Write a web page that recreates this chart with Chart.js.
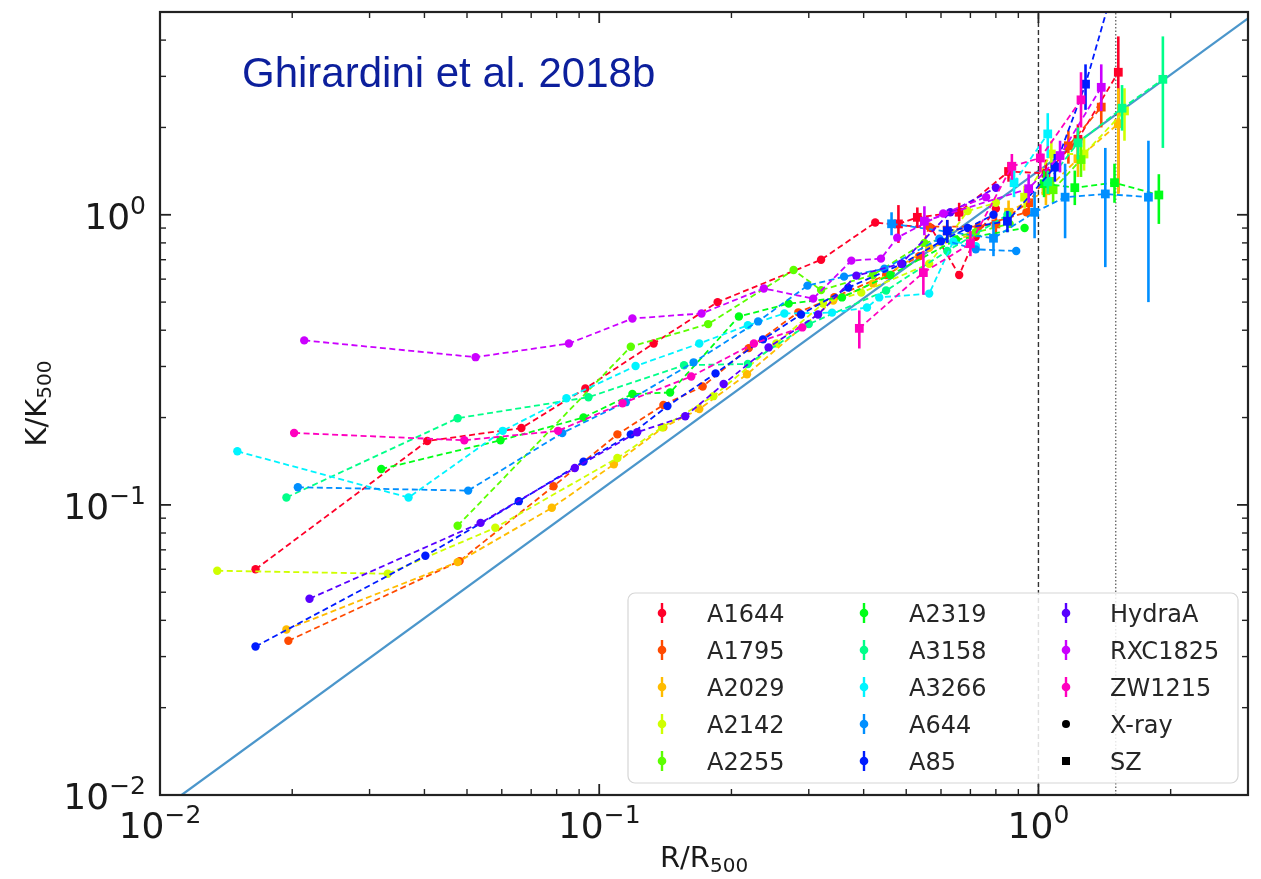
<!DOCTYPE html>
<html>
<head>
<meta charset="utf-8">
<script src="https://cdn.jsdelivr.net/npm/chart.js@4.4.0/dist/chart.umd.min.js"></script>
<style>
  html, body { margin: 0; padding: 0; background: #fff; }
  #wrap { width: 1261px; height: 879px; position: relative; }
</style>
</head>
<body>
<div id="wrap"><canvas id="chart"></canvas></div>
<script>
// cluster names and colours
const clusterNames = ['A1644', 'A1795', 'A2029', 'A2142', 'A2255', 'A2319', 'A3158',
                      'A3266', 'A644', 'A85', 'HydraA', 'RXC1825', 'ZW1215'];
const clusterColors = ['#ff0029', '#ff4a00', '#ffbc00', '#cfff00', '#5cff00', '#00ff17', '#00ff89',
                       '#00f4ff', '#008fff', '#001cff', '#5800ff', '#cb00ff', '#ff00bf'];

// X-ray profiles: [R/R500, K/K500]
const xrayA1644 = [[0.0165,0.060],[0.0406,0.166],[0.0665,0.184],[0.093,0.252],[0.133,0.36],[0.186,0.50],[0.32,0.70],[0.425,0.94],[0.57,0.90],[0.66,0.62],[0.72,0.84],[0.80,1.05]];
const xrayA1795 = [[0.0196,0.034],[0.0481,0.064],[0.0787,0.116],[0.110,0.175],[0.140,0.221],[0.172,0.256],[0.219,0.347],[0.284,0.461],[0.343,0.52],[0.45,0.62],[0.535,0.72],[0.564,0.91],[0.73,0.91],[0.939,1.02]];
const xrayA2029 = [[0.0194,0.0372],[0.0476,0.0635],[0.078,0.0977],[0.108,0.138],[0.140,0.185],[0.169,0.214],[0.217,0.282],[0.341,0.506],[0.42,0.58],[0.564,0.77],[0.70,0.85]];
const xrayA2142 = [[0.0135,0.0593],[0.033,0.0579],[0.058,0.0834],[0.110,0.145],[0.139,0.185],[0.182,0.237],[0.253,0.360],[0.323,0.494],[0.395,0.539],[0.564,0.678],[0.69,1.03],[0.80,1.10]];
const xrayA2255 = [[0.0476,0.0847],[0.118,0.351],[0.177,0.42],[0.277,0.645],[0.32,0.55],[0.42,0.62],[0.55,0.80],[0.72,0.87],[0.86,0.93]];
const xrayA2319 = [[0.0319,0.133],[0.0596,0.167],[0.0921,0.200],[0.119,0.241],[0.145,0.244],[0.208,0.446],[0.270,0.494],[0.357,0.519],[0.46,0.62],[0.65,0.82],[0.93,0.90]];
const xrayA3158 = [[0.0194,0.106],[0.0476,0.199],[0.0945,0.235],[0.156,0.303],[0.218,0.306],[0.30,0.42],[0.45,0.548],[0.62,0.75],[0.85,1.00]];
const xrayA3266 = [[0.0150,0.153],[0.0368,0.106],[0.0603,0.180],[0.0842,0.233],[0.121,0.301],[0.169,0.36],[0.218,0.416],[0.264,0.457],[0.339,0.46],[0.407,0.479],[0.434,0.519],[0.564,0.535],[0.64,0.81],[0.72,0.78]];
const xrayA644  = [[0.0206,0.115],[0.0503,0.112],[0.0824,0.177],[0.115,0.226],[0.164,0.310],[0.230,0.429],[0.298,0.570],[0.361,0.612],[0.446,0.652],[0.595,0.827],[0.72,0.76],[0.89,0.75]];
const xrayA85   = [[0.0165,0.0325],[0.0402,0.0668],[0.0656,0.103],[0.0921,0.141],[0.118,0.175],[0.143,0.219],[0.184,0.284],[0.236,0.372],[0.288,0.453],[0.369,0.561],[0.49,0.678],[0.60,0.81],[0.69,0.90],[0.79,1.0]];
const xrayHydraA = [[0.0219,0.0475],[0.0537,0.0867],[0.088,0.134],[0.122,0.178],[0.157,0.202],[0.192,0.261],[0.243,0.349],[0.315,0.453],[0.385,0.617],[0.487,0.678],[0.63,1.02],[0.80,1.24]];
const xrayRXC1825 = [[0.0213,0.369],[0.0523,0.323],[0.0853,0.360],[0.119,0.439],[0.171,0.457],[0.237,0.557],[0.307,0.514],[0.375,0.695],[0.438,0.706],[0.477,0.834],[0.607,1.01],[0.76,1.15]];
const xrayZW1215 = [[0.0202,0.177],[0.0493,0.167],[0.0806,0.180],[0.113,0.224],[0.162,0.277],[0.225,0.36],[0.29,0.409]];

// SZ profiles: [R/R500, K/K500, lower, upper]
const szA1644 = [[0.48,0.93,0.80,1.08],[0.53,0.98,0.90,1.06],[0.66,1.02,0.95,1.10],[0.855,1.41,1.30,1.52],[1.04,1.39,1.25,1.55],[1.23,1.82,1.60,2.05],[1.52,3.1,1.19,4.12]];
const szA1795 = [[0.62,0.88,0.80,0.96],[0.80,0.93,0.85,1.01],[0.95,1.10,1.0,1.2],[1.17,1.73,1.5,1.95],[1.39,2.35,2.0,2.7]];
const szA2029 = [[0.855,1.02,0.93,1.12],[1.04,1.21,1.08,1.35],[1.23,1.56,1.35,1.78],[1.52,2.06,1.18,2.73]];
const szA2142 = [[0.93,1.15,1.05,1.26],[1.07,1.62,1.45,1.80],[1.27,1.62,1.42,1.85],[1.57,2.28,1.80,2.73]];
const szA2255 = [[1.08,1.22,1.1,1.35],[1.25,1.55,1.35,1.75]];
const szA2319 = [[1.03,1.28,1.15,1.42],[1.21,1.24,1.08,1.42],[1.49,1.29,1.10,1.50],[1.88,1.17,0.93,1.38]];
const szA3158 = [[1.05,1.30,1.18,1.42],[1.23,1.77,1.55,2.0],[1.55,2.33,1.95,2.8],[1.92,2.93,1.70,4.12]];
const szA3266 = [[0.88,1.29,1.15,1.45],[1.05,1.90,1.57,2.24]];
const szA644  = [[0.463,0.931,0.85,1.02],[0.79,0.83,0.72,0.95],[0.98,1.02,0.83,1.2],[1.15,1.15,0.83,1.5],[1.42,1.18,0.66,1.70],[1.78,1.15,0.50,1.80]];
const szA85   = [[0.62,0.88,0.8,0.96],[0.85,0.95,0.87,1.03],[1.09,1.46,1.30,1.62],[1.28,2.82,2.3,3.3],[1.50,6.5,5.5,7.5]];
const szHydraA = [];
const szRXC1825 = [[0.55,0.95,0.85,1.07],[0.95,1.23,1.10,1.38],[1.12,1.6,1.4,1.8],[1.39,2.75,2.28,3.3]];
const szZW1215 = [[0.391,0.406,0.346,0.468],[0.547,0.632,0.53,0.75],[0.70,0.795,0.72,0.88],[0.87,1.47,1.32,1.62],[1.01,1.57,1.4,1.75],[1.25,2.49,2.0,3.1]];

// self-similar baseline and radius markers
const baselineX = [0.0112, 3.0];
const baselineY = [0.010, 4.75];
const r500 = 1.0;
const r200 = 1.5;

// axis ranges and tick labels (exponents of 10)
const xRange = [0.01, 3];
const yRange = [0.01, 5];
const xTickExps = [-2, -1, 0];
const yTickExps = [-2, -1, 0];

const xrayLists = [xrayA1644, xrayA1795, xrayA2029, xrayA2142, xrayA2255, xrayA2319, xrayA3158,
                   xrayA3266, xrayA644, xrayA85, xrayHydraA, xrayRXC1825, xrayZW1215];
const szLists = [szA1644, szA1795, szA2029, szA2142, szA2255, szA2319, szA3158,
                 szA3266, szA644, szA85, szHydraA, szRXC1825, szZW1215];

const datasets = [];
clusterNames.forEach((name, i) => {
    const color = clusterColors[i];
    const common = {
        showLine: true,
        borderColor: color,
        backgroundColor: color,
        pointBackgroundColor: color,
        pointBorderColor: color,
        borderWidth: 1.8,
        borderDash: [6, 3.5],
        pointBorderWidth: 0,
        clip: 0,
        order: 100 - i
    };
    datasets.push(Object.assign({}, common, {
        label: name,
        data: xrayLists[i].map(p => ({ x: p[0], y: p[1] })),
        pointStyle: 'circle',
        pointRadius: 4.2
    }));
    if (szLists[i].length) {
        datasets.push(Object.assign({}, common, {
            label: name + ' SZ',
            data: szLists[i].map(p => ({ x: p[0], y: p[1], lo: p[2], hi: p[3] })),
            pointStyle: 'rect',
            pointRadius: 6.2,
            errorBars: true
        }));
    }
});

datasets.push({
    label: 'R500',
    data: [{ x: r500, y: yRange[0] }, { x: r500, y: yRange[1] }],
    showLine: true, borderColor: '#333', borderWidth: 1.4, borderDash: [5, 3],
    pointRadius: 0, order: 150
});
datasets.push({
    label: 'R200',
    data: [{ x: r200, y: yRange[0] }, { x: r200, y: yRange[1] }],
    showLine: true, borderColor: '#444', borderWidth: 1.1, borderDash: [1.5, 2],
    pointRadius: 0, order: 151
});
datasets.push({
    label: 'baseline',
    data: baselineX.map((x, i) => ({ x: x, y: baselineY[i] })),
    showLine: true, borderColor: '#4b96cb', borderWidth: 2.2,
    pointRadius: 0, clip: 0, order: 200
});

// vertical error bars for SZ points, drawn under the markers
const errorBars = {
    id: 'errorBars',
    beforeDatasetDraw(chart, args) {
        const ds = chart.data.datasets[args.index];
        if (!ds.errorBars) return;
        const { ctx, chartArea: a, scales } = chart;
        ctx.save();
        ctx.beginPath();
        ctx.rect(a.left, a.top, a.width, a.height);
        ctx.clip();
        ctx.strokeStyle = ds.borderColor;
        ctx.lineWidth = 2.6;
        ds.data.forEach(p => {
            const px = scales.x.getPixelForValue(p.x);
            ctx.beginPath();
            ctx.moveTo(px, scales.y.getPixelForValue(p.lo));
            ctx.lineTo(px, scales.y.getPixelForValue(p.hi));
            ctx.stroke();
        });
        ctx.restore();
    }
};

function powerLabel(ctx, exp) {
    ctx.font = '36px "DejaVu Sans"';
    const w1 = ctx.measureText('10').width;
    ctx.font = '25px "DejaVu Sans"';
    const sup = exp < 0 ? '\u2212' + (-exp) : String(exp);
    const w2 = ctx.measureText(sup).width;
    return { sup, w1, w2 };
}

function subLabel(ctx, main, sub, x, y) {
    ctx.font = '29px "DejaVu Sans"';
    const w1 = ctx.measureText(main).width;
    ctx.font = '20px "DejaVu Sans"';
    const w2 = ctx.measureText(sub).width;
    const start = x - (w1 + w2) / 2;
    ctx.textAlign = 'left';
    ctx.font = '29px "DejaVu Sans"';
    ctx.fillText(main, start, y);
    ctx.font = '20px "DejaVu Sans"';
    ctx.fillText(sub, start + w1, y + 5);
}

// frame, inward ticks, tick labels, axis titles, title text
const frame = {
    id: 'frame',
    afterDraw(chart) {
        const { ctx, chartArea: a, scales: { x, y } } = chart;
        ctx.save();
        ctx.strokeStyle = '#222';
        const tick = (x1, y1, x2, y2) => { ctx.beginPath(); ctx.moveTo(x1, y1); ctx.lineTo(x2, y2); ctx.stroke(); };

        for (let e = -2; e <= 0; e++) {
            for (let m = 1; m <= 9; m++) {
                const major = m === 1;
                const len = major ? 11 : 6;
                ctx.lineWidth = major ? 1.8 : 1.4;
                const v = m * Math.pow(10, e);
                if (v > xRange[0] && v < xRange[1]) {
                    const px = x.getPixelForValue(v);
                    tick(px, a.bottom, px, a.bottom - len);
                    tick(px, a.top, px, a.top + len);
                }
                if (v > yRange[0] && v < yRange[1]) {
                    const py = y.getPixelForValue(v);
                    tick(a.left, py, a.left + len, py);
                    tick(a.right, py, a.right - len, py);
                }
            }
        }
        ctx.lineWidth = 2.2;
        ctx.strokeRect(a.left, a.top, a.width, a.height);

        ctx.fillStyle = '#1a1a1a';
        ctx.textAlign = 'left';
        ctx.textBaseline = 'alphabetic';
        xTickExps.forEach(exp => {
            const px = x.getPixelForValue(Math.pow(10, exp));
            const l = powerLabel(ctx, exp);
            const start = px - (l.w1 + l.w2) / 2;
            ctx.font = '36px "DejaVu Sans"';
            ctx.fillText('10', start, 838);
            ctx.font = '25px "DejaVu Sans"';
            ctx.fillText(l.sup, start + l.w1, 823);
        });
        yTickExps.forEach(exp => {
            const py = y.getPixelForValue(Math.pow(10, exp));
            const l = powerLabel(ctx, exp);
            const right = 146;
            ctx.font = '36px "DejaVu Sans"';
            ctx.fillText('10', right - l.w2 - l.w1, py + 14);
            ctx.font = '25px "DejaVu Sans"';
            ctx.fillText(l.sup, right - l.w2, py - 1);
        });

        subLabel(ctx, 'R/R', '500', (a.left + a.right) / 2, 867);
        ctx.save();
        ctx.translate(36, (a.top + a.bottom) / 2);
        ctx.rotate(-Math.PI / 2);
        subLabel(ctx, 'K/K', '500', 0, 10);
        ctx.restore();

        ctx.fillStyle = '#0c1f9c';
        ctx.font = '42px "Liberation Sans"';
        ctx.textAlign = 'left';
        ctx.fillText('Ghirardini et al. 2018b', 242, 87);
        ctx.restore();
    }
};

// three-column legend box in the lower right of the plot
const legendBox = {
    id: 'legendBox',
    afterDraw(chart) {
        const { ctx } = chart;
        const entries = clusterNames.map((n, i) => ({ name: n, color: clusterColors[i], kind: 'bar' }))
            .concat([{ name: 'X-ray', color: '#000', kind: 'dot' }, { name: 'SZ', color: '#000', kind: 'sq' }]);
        const markerX = [662, 864, 1066];
        const textX = [707, 909, 1110];
        const rowY = [613, 650, 687, 724, 761];
        ctx.save();
        ctx.beginPath();
        ctx.roundRect(628, 593, 610, 190, 7);
        ctx.fillStyle = 'rgba(255,255,255,0.85)';
        ctx.fill();
        ctx.strokeStyle = '#d6d6d6';
        ctx.lineWidth = 1.2;
        ctx.stroke();
        entries.forEach((en, k) => {
            const col = Math.floor(k / 5), row = k % 5;
            const mx = markerX[col], my = rowY[row];
            ctx.fillStyle = en.color;
            ctx.strokeStyle = en.color;
            if (en.kind === 'bar') {
                ctx.lineWidth = 2.4;
                ctx.beginPath(); ctx.moveTo(mx, my - 10); ctx.lineTo(mx, my + 10); ctx.stroke();
                ctx.beginPath(); ctx.arc(mx, my, 4.3, 0, Math.PI * 2); ctx.fill();
            } else if (en.kind === 'dot') {
                ctx.beginPath(); ctx.arc(mx, my, 4, 0, Math.PI * 2); ctx.fill();
            } else {
                ctx.fillRect(mx - 4, my - 4, 8, 8);
            }
            ctx.fillStyle = '#262626';
            ctx.font = '24px "DejaVu Sans"';
            ctx.textAlign = 'left';
            ctx.fillText(en.name, textX[col], my + 9);
        });
        ctx.restore();
    }
};

new Chart(document.getElementById('chart'), {
    type: 'scatter',
    data: { datasets: datasets },
    options: {
        responsive: true,
        maintainAspectRatio: false,
        animation: false,
        events: [],
        layout: { padding: { top: 12, right: 13, left: 0, bottom: 0 } },
        plugins: { legend: { display: false }, tooltip: { enabled: false } },
        scales: {
            x: {
                type: 'logarithmic', min: xRange[0], max: xRange[1],
                ticks: { display: false }, grid: { display: false }, border: { display: false },
                afterFit: s => { s.height = 84; }
            },
            y: {
                type: 'logarithmic', min: yRange[0], max: yRange[1],
                ticks: { display: false }, grid: { display: false }, border: { display: false },
                afterFit: s => { s.width = 160; }
            }
        }
    },
    plugins: [errorBars, frame, legendBox]
});
</script>
</body>
</html>
